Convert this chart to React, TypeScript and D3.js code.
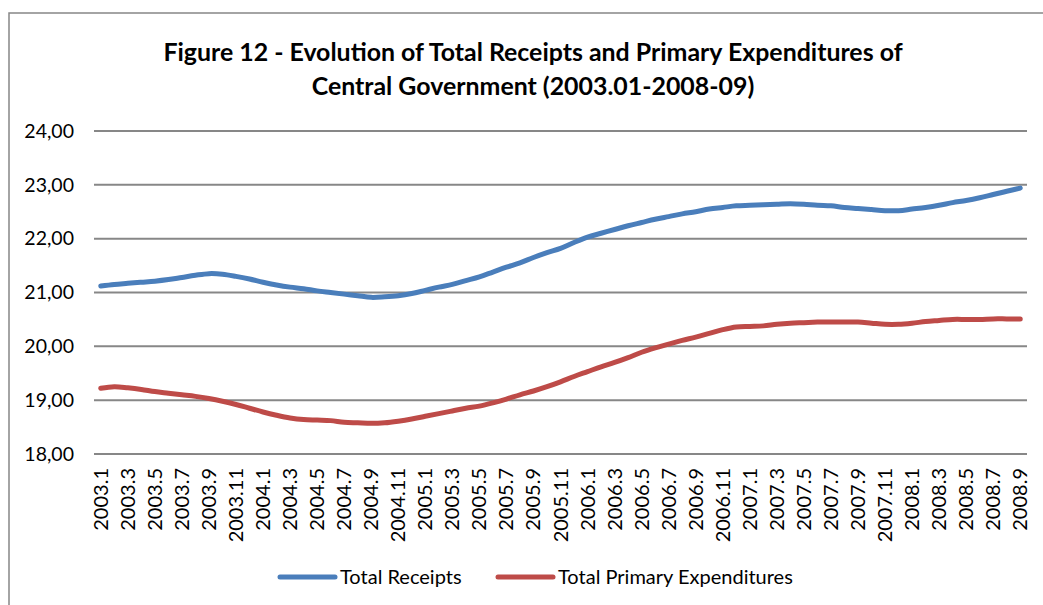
import React from "react";
import * as d3 from "d3";

const years = [2003, 2004, 2005, 2006, 2007, 2008];
const months = [1, 2, 3, 4, 5, 6, 7, 8, 9, 10, 11, 12];
const categories: string[] = [];
years.forEach((y) =>
  months.forEach((m) => {
    if (y === 2008 && m > 9) return;
    categories.push(`${y}.${m}`);
  })
);

const totalReceipts = [
  21.12, 21.15, 21.17, 21.19, 21.21, 21.24, 21.28, 21.32, 21.35, 21.34, 21.3, 21.25,
  21.19, 21.14, 21.1, 21.07, 21.03, 21.0, 20.97, 20.94, 20.91, 20.92, 20.94, 20.98,
  21.04, 21.1, 21.15, 21.22, 21.29, 21.38, 21.47, 21.55, 21.65, 21.74, 21.82, 21.93,
  22.03, 22.1, 22.17, 22.24, 22.3, 22.36, 22.41, 22.46, 22.5, 22.55, 22.58, 22.61,
  22.62, 22.63, 22.64, 22.65, 22.64, 22.62, 22.61, 22.58, 22.56, 22.54, 22.52, 22.52,
  22.55, 22.58, 22.62, 22.67, 22.71, 22.76, 22.82, 22.88, 22.94,
];

const totalPrimaryExpenditures = [
  19.22, 19.25, 19.23, 19.2, 19.16, 19.13, 19.1, 19.07, 19.03, 18.98, 18.92, 18.85,
  18.78, 18.72, 18.67, 18.64, 18.63, 18.62, 18.59, 18.58, 18.57, 18.58, 18.61, 18.65,
  18.7, 18.75, 18.8, 18.85, 18.89, 18.95, 19.02, 19.1, 19.17, 19.25, 19.34, 19.44,
  19.53, 19.62, 19.7, 19.79, 19.89, 19.97, 20.04, 20.11, 20.17, 20.24, 20.31, 20.36,
  20.37, 20.38, 20.41, 20.43, 20.44, 20.45, 20.45, 20.45, 20.45, 20.43, 20.41, 20.41,
  20.43, 20.46, 20.48, 20.5, 20.5, 20.5, 20.51, 20.51, 20.51,
];

const yTicks = [18, 19, 20, 21, 22, 23, 24];

const seriesNames = ["Total Receipts", "Total Primary Expenditures"];
const seriesColors = ["#4A7EBB", "#BE4B48"];

const W = 1043;
const H = 605;
const FONT = "Lato, 'Open Sans', sans-serif";

export default function App() {
  const x = d3.scaleBand<string>().domain(categories).range([94, 1027]);
  const y = d3.scaleLinear().domain([18, 24]).range([454, 131]);
  const line = d3
    .line<number>()
    .x((_, i) => (x(categories[i]) as number) + x.bandwidth() / 2)
    .y((d) => y(d))
    .curve(d3.curveCatmullRom.alpha(0.5));

  const series = [totalReceipts, totalPrimaryExpenditures];
  const fmt = (v: number) => v.toFixed(2).replace(".", ",");

  const legendItems = [
    { x1: 280, x2: 335, tx: 340 },
    { x1: 498, x2: 553, tx: 558 },
  ];

  return (
    <svg
      width={W}
      height={H}
      style={{ position: "absolute", left: 0, top: 0, background: "#fff" }}
      fontFamily={FONT}
    >
      <rect x={0} y={0} width={W} height={H} fill="#fff" />
      <rect x={9} y={13} width={W + 20} height={H + 20} fill="none" stroke="#878787" strokeWidth={1.5} />
      <text textAnchor="middle" fontWeight="bold" fontSize={24.9} fill="#000">
        <tspan x={533} y={61}>
          Figure 12 - Evolution of Total Receipts and Primary Expenditures of
        </tspan>
        <tspan x={533} y={95}>
          Central Government (2003.01-2008-09)
        </tspan>
      </text>
      {yTicks.map((t) => (
        <g key={t}>
          <line x1={94} x2={1027} y1={y(t)} y2={y(t)} stroke="#878787" strokeWidth={2} />
          <text x={74} y={y(t)} dy="0.35em" textAnchor="end" fontSize={19.5} fill="#000">
            {fmt(t)}
          </text>
        </g>
      ))}
      {categories.map((c, i) =>
        i % 2 === 0 ? (
          <text
            key={c}
            transform={`translate(${(x(c) as number) + x.bandwidth() / 2},468) rotate(-90)`}
            dy="0.35em"
            textAnchor="end"
            fontSize={20}
            fill="#000"
          >
            {c}
          </text>
        ) : null
      )}
      {series.map((s, k) => (
        <path
          key={k}
          d={line(s) || ""}
          fill="none"
          stroke={seriesColors[k]}
          strokeWidth={5}
          strokeLinecap="round"
          strokeLinejoin="round"
        />
      ))}
      {legendItems.map((l, k) => (
        <g key={k}>
          <line x1={l.x1} x2={l.x2} y1={577} y2={577} stroke={seriesColors[k]} strokeWidth={5} strokeLinecap="round" />
          <text x={l.tx} y={577} dy="0.35em" fontSize={20} fill="#000">
            {seriesNames[k]}
          </text>
        </g>
      ))}
    </svg>
  );
}
